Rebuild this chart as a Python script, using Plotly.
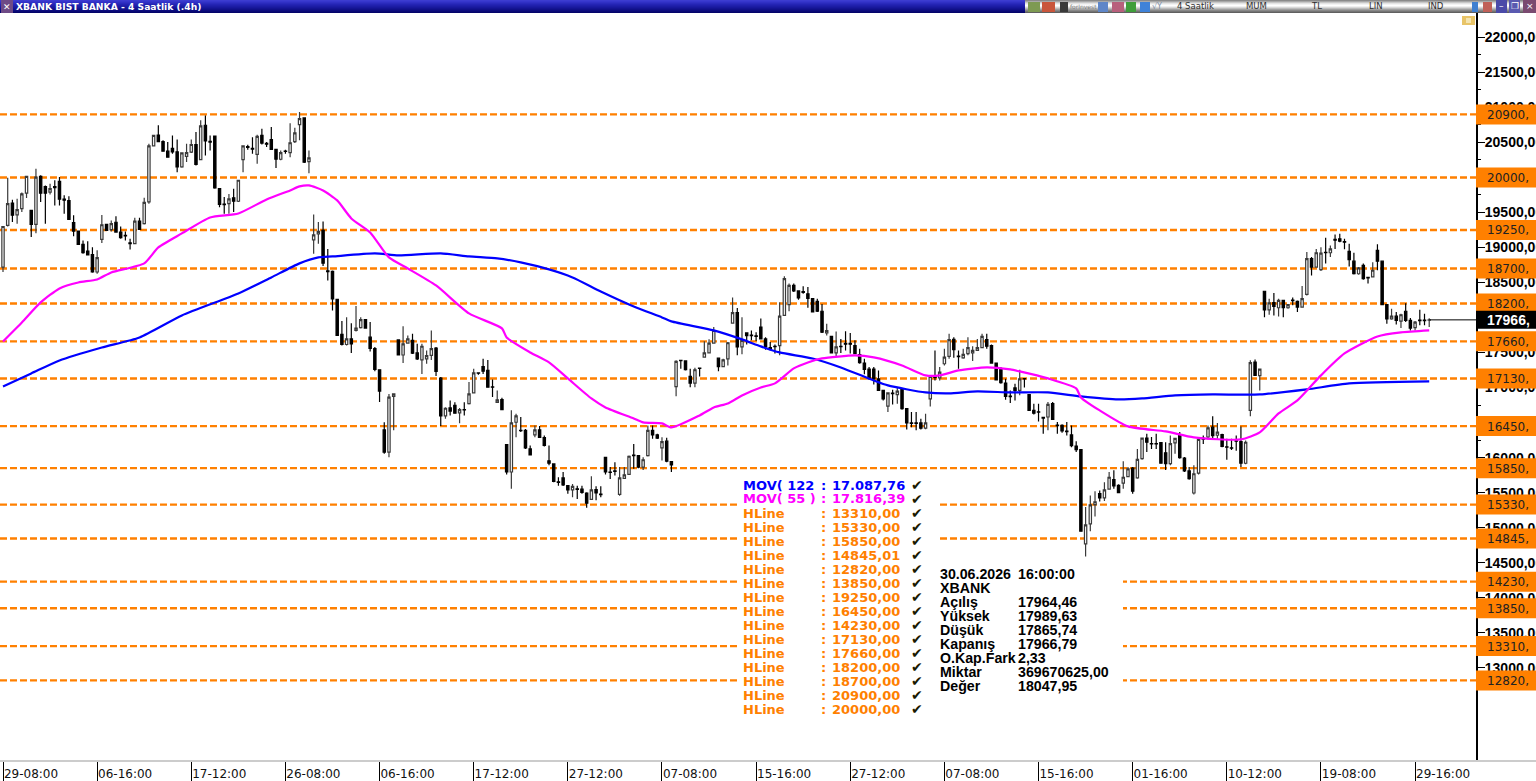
import plotly.graph_objects as go

# XBANK 4-hour bars
opens = [
 18720,19315,19635,19465,19555,19775,19530,19330,20015,19870,
 19790,19870,19945,19690,19670,19355,19235,19045,18950,18900,
 18650,19115,19330,19255,19360,19220,19175,19065,19055,19375,
 19340,19650,20450,20605,20510,20375,20415,20365,20150,20300,
 20360,20470,20255,20745,20515,20590,19840,19620,19625,19710,
 19660,20255,20440,20415,20330,20600,20485,20540,20400,20260,
 20375,20355,20510,20755,20850,20225,19110,19195,19245,18665,
 18660,18260,17760,17615,17695,17815,17855,17970,17720,17555,
 17255,16395,16080,16875,17680,17465,17635,17675,17495,17395,
 17410,17460,17565,17135,16595,16710,16745,16640,16685,16770,
 16925,17210,17300,17245,17010,16790,16830,16185,15795,16505,
 16390,16390,16125,16325,16395,16285,15955,15910,15655,15710,
 15600,15540,15555,15550,15495,15405,15545,15480,16005,15795,
 15810,15475,15705,15760,16035,16030,15865,16030,16390,16325,
 16140,16235,15945,17015,17390,17380,17160,17065,17280,17435,
 17495,17635,17420,17300,17410,17920,18070,17580,17780,17750,
 17740,17865,17695,17570,17590,17600,18030,18185,18460,18380,
 18370,18340,18270,18230,18090,17780,17730,17495,17590,17630,
 17630,17600,17470,17350,17265,17265,17125,16960,16735,16920,
 16900,16985,16700,16495,16495,16495,16420,16840,17155,17140,
 17340,17445,17690,17450,17425,17485,17495,17530,17570,17685,
 17600,17350,17260,17065,16880,16995,16960,17130,16900,16675,
 16655,16575,16580,16770,16465,16460,16380,16325,16165,16115,
 14770,15055,15330,15485,15425,15550,15685,15605,15635,15730,
 15850,15710,15985,16280,16200,16200,16215,16070,15915,16210,
 16330,15995,15810,15495,15780,16275,16295,16435,16320,16330,
 16155,16140,16240,16230,15920,16675,17365,17170,18375,18110,
 18215,18140,18245,18140,18250,18230,18150,18330,18840,18720,
 18685,18930,18925,19115,19125,19085,18945,18805,18625,18745,
 18575,18580,18960,18805,18185,17980,18020,17950,18090,17960,
 17855,17965,17965,17964.46,
]
highs = [
 19300,19995,19680,19695,19785,20015,19530,20125,20030,19885,
 19910,19960,20005,19745,19730,19460,19235,19100,19090,19005,
 18960,19465,19330,19385,19445,19300,19230,19125,19425,19425,
 19710,20480,20600,20745,20530,20505,20600,20540,20360,20480,
 20540,20650,20815,20885,20600,20600,19840,19720,19765,19840,
 19965,20455,20465,20575,20610,20695,20505,20720,20410,20385,
 20395,20775,20710,20935,20850,20385,19470,19365,19370,18980,
 18670,18270,17950,18005,17920,18165,18005,17970,17935,17580,
 17255,16505,16910,16920,17680,17875,17745,17770,17625,17625,
 17530,17815,17580,17150,16720,16815,16790,16710,16790,17080,
 17270,17220,17410,17395,17115,16960,16855,16185,16675,16625,
 16580,16410,16175,16460,16450,16315,16175,15910,15720,15795,
 15600,15625,15600,15600,15505,15735,15590,15590,16005,15865,
 15935,15865,15865,16030,16195,16030,16005,16460,16460,16340,
 16290,16285,15945,17390,17395,17390,17270,17285,17285,17660,
 17690,17865,17425,17410,17650,18285,18135,18005,17790,17815,
 17790,17985,17720,17650,17615,18220,18590,18485,18485,18385,
 18445,18435,18270,18270,18195,17910,17735,17800,17695,17805,
 17780,17675,17555,17410,17295,17295,17245,16970,16935,16970,
 17005,16985,16710,16650,16650,16555,16625,17160,17530,17295,
 17555,17770,17720,17530,17555,17720,17590,17695,17770,17770,
 17615,17350,17295,17125,16960,17055,17255,17135,16900,16770,
 16770,16580,16795,16795,16510,16475,16510,16460,16235,16125,
 15295,15460,15520,15530,15650,15795,15820,15620,15950,15865,
 15865,16125,16285,16340,16295,16340,16220,16220,16315,16285,
 16365,16010,15865,15890,16270,16315,16460,16590,16495,16340,
 16270,16270,16315,16445,16245,17390,17400,17270,18375,18270,
 18350,18270,18255,18190,18285,18245,18450,18935,18865,18980,
 19005,19140,19030,19185,19195,19125,19055,18925,18720,18770,
 18580,18790,19045,18805,18185,18125,18080,18055,18205,17995,
 17950,18110,18055,17989.63,
]
lows = [
 18650,19300,19365,19340,19505,19705,19150,19205,19650,19340,
 19755,19600,19600,19480,19395,19160,19045,18910,18885,18640,
 18625,19065,19245,19230,19210,19125,19100,18970,19050,19255,
 19330,19625,20445,20505,20375,20280,20340,20075,20140,20220,
 20350,20170,20245,20315,20385,19840,19575,19480,19480,19505,
 19650,20075,20395,20340,20195,20470,20435,20395,20135,20245,
 20340,20290,20490,20530,20205,20060,18910,19055,18735,18530,
 18100,17735,17600,17600,17495,17800,17845,17840,17515,17235,
 16795,16055,16005,16390,17460,17350,17625,17480,17395,17195,
 17340,17395,17165,16450,16555,16600,16625,16490,16600,16760,
 16920,17185,17195,17005,16865,16780,16675,15760,15555,16290,
 16365,16125,16030,16290,16285,16160,15890,15650,15600,15595,
 15485,15435,15410,15485,15285,15400,15390,15435,15760,15695,
 15745,15455,15695,15760,15840,15850,15825,16015,16270,16265,
 15960,15935,15795,16875,17270,17245,17005,17005,17160,17425,
 17485,17625,17235,17295,17315,17910,17460,17475,17615,17675,
 17665,17695,17540,17530,17485,17460,18030,18090,18365,18255,
 18340,18140,18075,18080,17780,17745,17485,17435,17495,17530,
 17485,17475,17340,17190,17115,17045,16950,16815,16650,16760,
 16770,16685,16400,16435,16390,16400,16405,16730,17100,17100,
 17315,17410,17425,17270,17410,17460,17380,17530,17565,17555,
 17340,17100,17055,16825,16780,16815,16890,17000,16665,16615,
 16515,16340,16390,16540,16340,16355,16315,16150,16080,14950,
 14590,14950,15160,15375,15380,15540,15555,15495,15555,15720,
 15485,15700,15970,16080,16125,16125,15915,15825,15890,16055,
 15985,15795,15685,15475,15760,16195,16260,16260,16270,16150,
 15970,16110,16100,15865,15905,16590,17165,16960,18005,18040,
 18030,18015,18005,18125,18175,18080,18140,18315,18600,18710,
 18665,18770,18865,18980,19075,18975,18730,18615,18610,18540,
 18485,18570,18675,18175,17910,17970,17900,17850,17935,17815,
 17815,17890,17890,17865.74,
]
closes = [
 19300,19625,19460,19540,19765,20015,19330,20005,19775,19775,
 19840,19855,19690,19675,19400,19235,19045,18925,18895,18650,
 18855,19325,19245,19340,19220,19140,19165,19055,19375,19260,
 19645,20450,20600,20510,20375,20290,20365,20150,20350,20355,
 20470,20185,20735,20520,20505,19850,19615,19610,19695,19660,
 19960,20450,20430,20405,20585,20490,20475,20400,20260,20355,
 20370,20495,20635,20840,20220,20280,19180,19230,18775,18655,
 18265,17745,17615,17695,17625,17850,17970,17850,17560,17260,
 16950,16080,16865,16910,17465,17625,17695,17490,17410,17590,
 17455,17555,17230,16595,16705,16665,16635,16685,16680,16910,
 17210,17205,17235,17005,17005,16825,16685,15795,16495,16595,
 16385,16140,16040,16395,16290,16175,15920,15660,15645,15610,
 15540,15590,15545,15505,15350,15540,15495,15470,15795,15790,
 15805,15710,15755,16020,16030,15865,15970,16390,16325,16280,
 16230,15950,15895,17375,17385,17255,17065,17255,17275,17495,
 17635,17815,17300,17395,17640,18070,17580,17675,17740,17740,
 17730,17695,17580,17560,17585,18020,18555,18460,18380,18280,
 18360,18275,18080,18090,17790,17815,17495,17580,17585,17620,
 17620,17485,17355,17260,17125,17125,16960,16840,16925,16915,
 16950,16700,16495,16490,16490,16420,16495,17160,17145,17220,
 17435,17685,17540,17440,17475,17570,17530,17570,17730,17590,
 17350,17110,17070,16875,16870,16960,17125,17125,16675,16635,
 16650,16565,16760,16545,16455,16380,16370,16170,16115,14950,
 15040,15325,15370,15425,15540,15720,15595,15500,15720,15840,
 15520,15975,16280,16220,16195,16195,15920,15915,16200,16275,
 16000,15810,15700,15770,16260,16265,16425,16315,16365,16160,
 16150,16135,16235,15920,16220,17355,17175,17265,18110,18210,
 18160,18245,18140,18185,18240,18150,18270,18840,18720,18925,
 18920,18925,18980,19105,19090,19075,18825,18625,18710,18555,
 18565,18675,18805,18185,17980,18020,17960,18040,17960,17850,
 17935,17955,17955,17966.79,
]
bars = list(range(len(closes)))

# Moving averages, sampled at selected bars
mov55_bars = [0,4,8,12,16,20,23,30,33,38,44,50,56,61,63,65,68,71,74,78,82,86,92,99,106,107,
              112,116,120,125,128,134,136,140,142,148,151,154,157,161,164,168,171,174,181,185,
              191,196,199,203,209,214,216,222,228,229,233,239,247,253,263,267,271,275,280,285,
              292,297,303]
mov55_vals = [17659,17930,18216,18416,18501,18544,18644,18773,19001,19201,19429,19486,19686,19815,
              19872,19886,19815,19672,19415,19215,18858,18701,18458,18059,17845,17716,
              17502,17359,17131,16845,16717,16560,16503,16489,16431,16603,16717,16774,16888,17002,
              17060,17274,17359,17416,17459,17431,17316,17174,17174,17245,17288,17259,17231,17131,
              16988,16860,16674,16446,16374,16289,16260,16360,16631,16817,17174,17488,17730,17788,
              17816.39]
mov122_bars = [0,6,12,21,29,38,50,57,63,67,70,79,84,93,99,105,110,116,121,127,134,140,142,151,157,
               161,165,172,178,185,188,196,201,207,214,222,229,237,242,249,257,267,277,286,303]
mov122_vals = [17017,17202,17388,17573,17716,18030,18344,18573,18773,18858,18872,18915,18887,18915,
               18872,18844,18787,18687,18573,18373,18159,18002,17945,17816,17688,17588,17502,17416,
               17288,17102,17031,16931,16917,16945,16931,16931,16874,16831,16845,16888,16902,16902,
               16974,17059,17087.76]

# Horizontal levels, in the order of the study list
hline_vals = [13310.00,15330.00,15850.00,14845.01,12820.00,13850.00,19250.00,16450.00,
              14230.00,17130.00,17660.00,18200.00,18700.00,20900.00,20000.00]
hline_text = ["13310,00","15330,00","15850,00","14845,01","12820,00","13850,00","19250,00","16450,00",
              "14230,00","17130,00","17660,00","18200,00","18700,00","20900,00","20000,00"]

date_labels = ["29-08:00","06-16:00","17-12:00","26-08:00","06-16:00","17-12:00","27-12:00","07-08:00",
               "15-16:00","27-12:00","07-08:00","15-16:00","01-16:00","10-12:00","19-08:00","29-16:00"]
date_bars = [20 * k for k in range(len(date_labels))]
price_ticks = list(range(13000, 22001, 500))
price_minor = list(range(13250, 21751, 500))

info_rows = [("30.06.2026", "16:00:00"), ("XBANK", ""), ("Açılış", "17964,46"), ("Yüksek", "17989,63"),
             ("Düşük", "17865,74"), ("Kapanış", "17966,79"), ("O.Kap.Fark", "2,33"),
             ("Miktar", "369670625,00"), ("Değer", "18047,95")]

W, H = 1536, 781
LEFT_AXIS = 1476          # right edge of the plot area
TOP, BOTTOM = 13, 761     # plot area rows
ORANGE = "#FF8000"


def px(x):
    return x / LEFT_AXIS


def py(y):
    return (BOTTOM - y) / (BOTTOM - TOP)


def rect(x0, x1, y0, y1, color, layer="above"):
    return dict(type="rect", xref="paper", yref="paper", x0=px(x0), x1=px(x1), y0=py(y0), y1=py(y1),
                fillcolor=color, line_width=0, layer=layer)


def note(x, y, text, size, color="#000000", family="DejaVu Sans", yref="paper", anchor="left", yshift=0):
    return dict(xref="paper", yref=yref, x=px(x), y=py(y) if yref == "paper" else y, text=text,
                showarrow=False, xanchor=anchor, yanchor="middle", borderpad=0, borderwidth=0, yshift=yshift,
                font=dict(size=size, color=color, family=family))


shapes, notes = [], []

# Level lines run under the bars
for v in hline_vals:
    shapes.append(dict(type="line", xref="paper", yref="y", x0=0, x1=1, y0=v, y1=v, layer="below",
                       line=dict(color=ORANGE, width=2.4, dash="7px,3px")))

# Clear panels behind the study list and the bar details
shapes.append(rect(740, 940, 478, 716, "#FFFFFF", "below"))
shapes.append(rect(940, 1123, 565, 695, "#FFFFFF", "below"))

# Price flags on the right axis
for v in hline_vals:
    shapes.append(dict(type="rect", xref="paper", yref="y", x0=1, x1=px(W), ysizemode="pixel", yanchor=v,
                       y0=-10, y1=10, fillcolor=ORANGE, line_width=0, layer="above"))
    notes.append(note(1486.5, v, f"{int(v)},", 12, "#222222", yref="y", yshift=-0.5))
shapes.append(dict(type="rect", xref="paper", yref="y", x0=1, x1=px(W), ysizemode="pixel", yanchor=closes[-1],
                   y0=-9, y1=9, fillcolor="#000000", line_width=0, layer="above"))
notes.append(note(1487, closes[-1], f"<b>{int(closes[-1])},</b>", 14, "#FFFFFF", "Liberation Sans", yref="y"))

# Study list
list_rows = [("MOV( 122", "17.087,76", "#0000FF"), ("MOV( 55 )", "17.816,39", "#FF00FF")]
list_rows += [("HLine", t, ORANGE) for t in hline_text]
for k, (name, value, color) in enumerate(list_rows):
    row = 485 + 14 * k
    notes.append(note(743, row, f"<b>{name}</b>", 13, color))
    notes.append(note(821, row, "<b>:</b>", 13, color))
    notes.append(note(832, row, f"<b>{value}</b>", 13, color))
    notes.append(note(911, row - 1, "<b>✔</b>", 14, "#1a1a00", "Noto Sans CJK SC, DejaVu Sans"))

# Bar details
for k, (a, b) in enumerate(info_rows):
    row = 574 + 14 * k
    notes.append(note(940, row, f"<b>{a}</b>", 14.2, "#000000", "Liberation Sans"))
    if b:
        notes.append(note(1018, row, f"<b>{b}</b>", 14.2, "#000000", "Liberation Sans"))

# Window title bar
blue_rows = ["#3c3cd0", "#3636cc", "#3030c4", "#2a2abc", "#2424b4", "#2020ac", "#1c1ca4",
             "#18189c", "#141492", "#101088", "#0c0c7e", "#080874", "#04046a"]
grey_rows = ["#8a8a8a", "#a8a8a8", "#c8c8c8", "#e4e4e4", "#f4f4f4", "#ffffff", "#f0f0f0",
             "#d8d8d8", "#bcbcbc", "#a0a0a0", "#888888", "#747474", "#606060"]
for r in range(13):
    shapes.append(rect(0, 1025, r, r + 1, blue_rows[r]))
    shapes.append(rect(1025, W, r, r + 1, grey_rows[r]))
shapes.append(rect(1, 13, 0, 13, "#6e4a86"))
notes.append(note(7, 7, "✕", 9, "#FFFFFF", anchor="center"))
notes.append(note(16, 6.5, "<b>XBANK BIST BANKA - 4 Saatlik (.4h)</b>", 9.2, "#FFFFFF"))

# Toolbar glyphs
toolbar = [(1028, 1040, "#7e9a52"), (1042, 1055, "#c9563c"), (1060, 1068, "#3a3a3a"),
           (1098, 1108, "#5f86c8"), (1112, 1124, "#b8607c"), (1126, 1136, "#3f9e3a"),
           (1140, 1150, "#3f82d8"), (1472, 1478, "#3f7fd0"), (1483, 1492, "#c06058")]
for x0, x1, color in toolbar:
    shapes.append(rect(x0, x1, 2, 12, color))
notes.append(note(1070, 6.5, "forInvest", 6, "#808080"))
notes.append(note(1152, 6.5, "√Y", 8, "#8090a8"))
for x, label in [(1177, "4 Saatlik"), (1246, "MUM"), (1311, "TL"), (1369, "LIN"), (1428, "IND")]:
    notes.append(note(x, 6.5, label, 8.5, "#303030"))
for x0, x1, color, glyph in [(1496, 1507, "#4a4aa8", "–"), (1509, 1520, "#5a5ab0", "❐"), (1523, W, "#7a4a70", "×")]:
    shapes.append(rect(x0, x1, 0, 13, color))
    notes.append(note((x0 + x1) / 2, 6.5, glyph, 9, "#FFFFFF", anchor="center"))

# Alert badge above the price axis
shapes.append(rect(1462, 1475, 16, 25, "#E8C468"))
shapes.append(rect(1466, 1471, 18, 23, "#F4E4B0"))

# Band above the time axis
shapes.append(rect(0, W, 760, 762, "#CCCCCC"))

fig = go.Figure()
fig.add_trace(go.Candlestick(
    x=bars, open=opens, high=highs, low=lows, close=closes,
    increasing=dict(line=dict(color="#3a3a3a", width=1.2), fillcolor="#FFFFFF"),
    decreasing=dict(line=dict(color="#000000", width=1.2), fillcolor="#000000"),
    whiskerwidth=0, hoverinfo="skip", showlegend=False))
fig.add_trace(go.Scatter(x=mov122_bars, y=mov122_vals, mode="lines",
                         line=dict(color="#0000FF", width=2.2, shape="spline", smoothing=0.6),
                         hoverinfo="skip", showlegend=False))
fig.add_trace(go.Scatter(x=mov55_bars, y=mov55_vals, mode="lines",
                         line=dict(color="#FF00FF", width=2.2, shape="spline", smoothing=0.6),
                         hoverinfo="skip", showlegend=False))
fig.add_trace(go.Scatter(x=[bars[-1], 313], y=[closes[-1], closes[-1]], mode="lines",
                         line=dict(color="#000000", width=1), hoverinfo="skip", showlegend=False))

fig.update_layout(
    width=W, height=H, paper_bgcolor="#FFFFFF", plot_bgcolor="#FFFFFF",
    margin=dict(l=0, r=W - LEFT_AXIS, t=TOP, b=H - BOTTOM, autoexpand=False),
    shapes=shapes, annotations=notes, showlegend=False,
    xaxis=dict(range=[-0.637, 312.94], rangeslider=dict(visible=False), showgrid=False, zeroline=False,
               tickmode="array", tickvals=date_bars, ticktext=date_labels, ticks="outside", ticklen=19,
               tickwidth=1, tickcolor="#000000", showline=False,
               tickfont=dict(family="DejaVu Sans", size=12, color="#111111"),
               ticklabelshift=28, ticklabelstandoff=-17),
    yaxis=dict(range=[11669.4, 22347.5], side="right", showgrid=False, zeroline=False,
               tickmode="array", tickvals=price_ticks, ticktext=[f"<b>{v},00</b>" for v in price_ticks],
               ticks="outside", ticklen=7, tickwidth=1, tickcolor="#000000",
               showline=True, linecolor="#000000", linewidth=2, ticklabelstandoff=-3,
               tickfont=dict(family="Liberation Sans", size=14, color="#000000"),
               minor=dict(tickmode="array", tickvals=price_minor, ticks="outside", ticklen=3,
                          tickcolor="#000000", tickwidth=1)),
)
fig.write_html("out.html", config=dict(displayModeBar=False))
